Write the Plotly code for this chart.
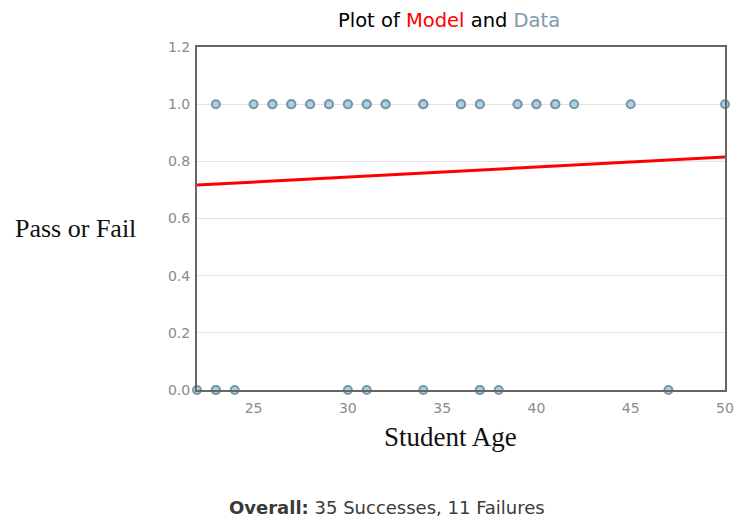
import plotly.graph_objects as go

# Data
success_ages = [23, 25, 26, 26, 27, 27, 27, 28, 28, 29, 29, 30, 30, 31, 31, 32, 32,
                34, 34, 34, 36, 36, 36, 37, 37, 39, 39, 40, 40, 41, 41, 41, 42, 45, 50]
failure_ages = [22, 23, 23, 24, 30, 31, 34, 37, 37, 38, 47]
model_x = [22, 29, 36, 43, 50]
model_y = [0.717, 0.742, 0.766, 0.791, 0.815]
x_ticks = [25, 30, 35, 40, 45, 50]
y_ticks = [0.0, 0.2, 0.4, 0.6, 0.8, 1.0, 1.2]

data_x = success_ages + failure_ages
data_y = [1] * len(success_ages) + [0] * len(failure_ages)

SANS = "DejaVu Sans, sans-serif"
SERIF = "Liberation Serif, serif"

fig = go.Figure()
fig.add_trace(go.Scatter(
    x=model_x, y=model_y, mode="lines",
    line=dict(color="#ff0000", width=3),
    hoverinfo="skip", showlegend=False,
))
fig.add_trace(go.Scatter(
    x=data_x, y=data_y, mode="markers",
    marker=dict(size=8, color="#a6d4e2", line=dict(color="#7b95a6", width=2)),
    cliponaxis=False, showlegend=False,
))

fig.update_layout(
    width=734, height=521,
    margin=dict(l=197, r=9, t=47, b=131, autoexpand=False),
    paper_bgcolor="white", plot_bgcolor="white",
    font=dict(family=SANS),
    xaxis=dict(
        range=[22, 50], tickvals=x_ticks, ticktext=[str(v) for v in x_ticks],
        showgrid=False, zeroline=False, automargin=False,
        showline=True, linecolor="#666666", linewidth=2, mirror=True,
        ticks="", ticklabelstandoff=4,
        tickfont=dict(size=14, color="#8a8a8a", family=SANS),
    ),
    yaxis=dict(
        range=[0, 1.2], tickvals=y_ticks, ticktext=[f"{v:.1f}" for v in y_ticks],
        showgrid=True, gridcolor="#e2e2e2", gridwidth=1, zeroline=False, automargin=False,
        showline=True, linecolor="#666666", linewidth=2, mirror=True,
        ticks="", ticklabelstandoff=2,
        tickfont=dict(size=14, color="#8a8a8a", family=SANS),
    ),
    annotations=[
        dict(text="Plot of <span style='color:#ff0000'>Model</span> and "
                  "<span style='color:#8097ad'>Data</span>",
             xref="paper", yref="paper", x=0.5, xshift=-12, y=1, yshift=27,
             xanchor="center", yanchor="middle", showarrow=False,
             font=dict(size=19.5, color="#000000", family=SANS)),
        dict(text="Pass or Fail", xref="paper", yref="paper", x=0, xshift=-122,
             y=0.5, yshift=-10, xanchor="center", yanchor="middle", showarrow=False,
             font=dict(size=26, color="#111111", family=SERIF)),
        dict(text="Student Age", xref="paper", yref="paper", x=0.5, xshift=-11,
             y=0, yshift=-47, xanchor="center", yanchor="middle", showarrow=False,
             font=dict(size=27, color="#111111", family=SERIF)),
        dict(text="<b>Overall:</b> 35 Successes, 11 Failures", xref="paper", yref="paper",
             x=0.5, xshift=-74, y=0, yshift=-117, xanchor="center", yanchor="middle",
             showarrow=False, font=dict(size=18, color="#3a3a3a", family=SANS)),
    ],
)

fig.write_html(
    "out.html",
    config={"displayModeBar": False},
    post_script="document.body.style.margin='0';document.body.style.overflow='hidden';",
)
